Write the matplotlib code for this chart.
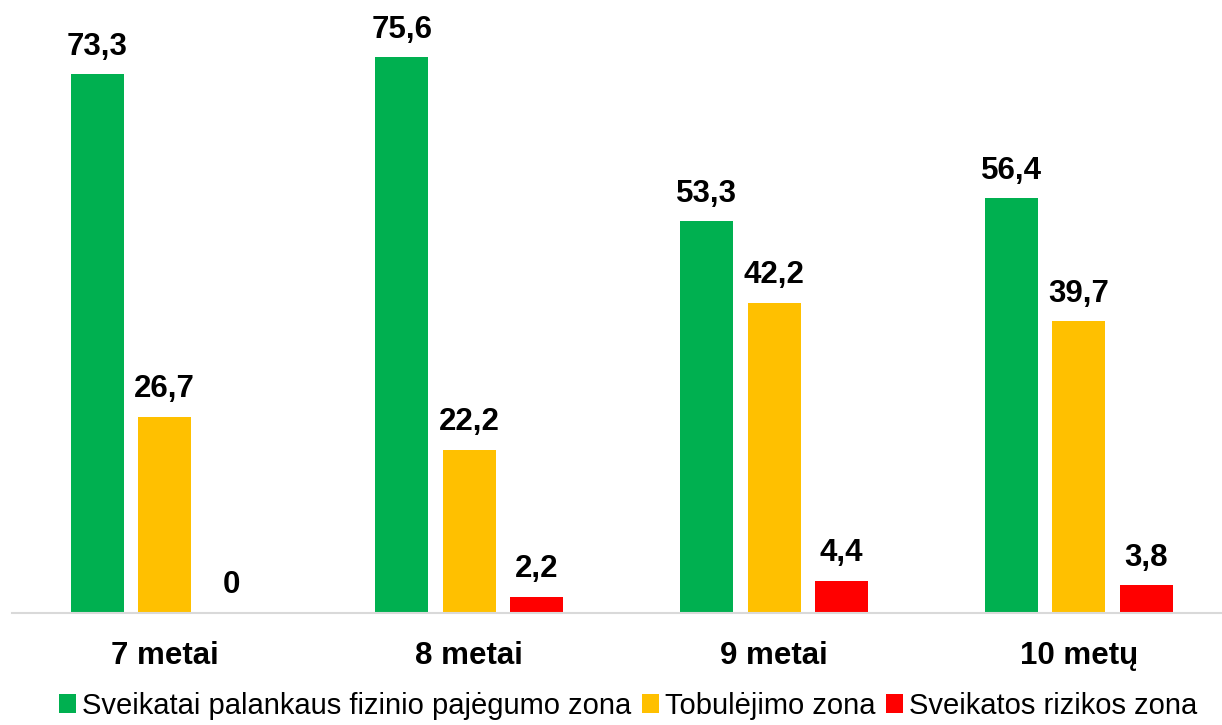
import numpy as np
import matplotlib.pyplot as plt

groups = ["7 metai", "8 metai", "9 metai", "10 metų"]
series = ["Sveikatai palankaus fizinio pajėgumo zona", "Tobulėjimo zona", "Sveikatos rizikos zona"]
green_vals = [73.3, 75.6, 53.3, 56.4]
yellow_vals = [26.7, 22.2, 42.2, 39.7]
red_vals = [0, 2.2, 4.4, 3.8]
colors = ["#00b050", "#ffc000", "#ff0000"]

plt.rcParams['font.family'] = ['Liberation Sans', 'DejaVu Sans']

fig = plt.figure(figsize=(12.22, 7.25), dpi=100)
ax = fig.add_axes([0.010, 0.1545, 0.990, 0.811])

x = np.arange(len(groups))
width = 0.174
step = 0.221
for i, (vals, col, name) in enumerate(zip([green_vals, yellow_vals, red_vals], colors, series)):
    bars = ax.bar(x + (i - 1) * step, vals, width, color=col, label=name)
    for b, v in zip(bars, vals):
        txt = str(v).replace(".", ",") if v != 0 else "0"
        ax.text(b.get_x() + b.get_width() / 2, v + 1.7, txt, ha="center", va="bottom",
                fontsize=22.5, fontweight="bold")

ax.set_ylim(0, 80)
ax.set_xlim(-0.5, 3.47)
ax.set_xticks(x)
ax.set_xticklabels(groups, fontsize=22.5, fontweight="bold")
ax.tick_params(axis="x", length=0, pad=20)
ax.set_yticks([])
for s in ["top", "right", "left"]:
    ax.spines[s].set_visible(False)
ax.spines["bottom"].set_color("#d9d9d9")
ax.spines["bottom"].set_linewidth(1.5)

fig.legend(loc="lower center", bbox_to_anchor=(0.514, -0.029), ncol=3, frameon=False,
           fontsize=21, handlelength=0.6, handleheight=0.6, handletextpad=0.2,
           columnspacing=0.35)

fig.savefig("out.png", dpi=100)
